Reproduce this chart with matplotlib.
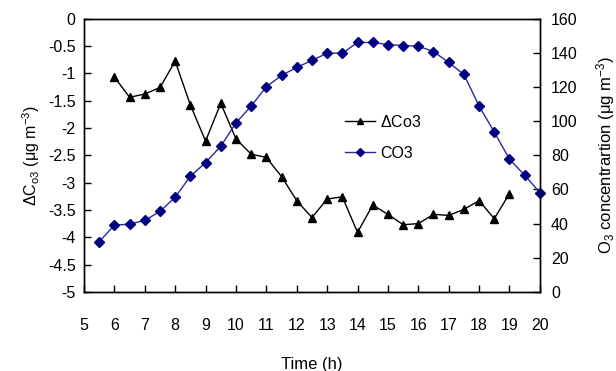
import matplotlib
matplotlib.use('Agg')
import matplotlib.pyplot as plt
import numpy as np

plt.rcParams['font.family'] = ['Liberation Sans', 'DejaVu Sans']
plt.rcParams['mathtext.fontset'] = 'custom'
plt.rcParams['mathtext.rm'] = 'Liberation Sans'
plt.rcParams['mathtext.it'] = 'Liberation Sans'

# time axis (hours)
t_delta = np.arange(6.0, 19.01, 0.5)
t_co3 = np.arange(5.5, 20.01, 0.5)

# change of ozone concentration (left axis)
delta_co3 = [-1.07, -1.44, -1.38, -1.26, -0.78, -1.58, -2.24, -1.55, -2.20,
             -2.48, -2.54, -2.89, -3.33, -3.64, -3.30, -3.26, -3.91, -3.41,
             -3.58, -3.77, -3.75, -3.58, -3.60, -3.49, -3.33, -3.66, -3.20]

# ozone concentration (right axis)
co3 = [29.4, 39.1, 39.7, 41.9, 47.1, 55.5, 67.7, 75.7, 85.3, 98.9, 108.8,
       120.1, 126.7, 131.4, 135.5, 139.7, 139.7, 146.0, 146.0, 144.8, 144.2,
       143.8, 140.7, 134.3, 127.3, 108.8, 93.6, 77.7, 68.3, 58.2]

fig = plt.figure(figsize=(6.16, 3.71), dpi=100)
ax = fig.add_axes([0.1364, 0.213, 0.740, 0.737])
ax2 = ax.twinx()

l1, = ax.plot(t_delta, delta_co3, '-^', color='black', lw=1, ms=6,
              label=r'$\Delta$Co3')
l2, = ax2.plot(t_co3, co3, '-D', color='#2a2a9a', mfc='#000080',
               mec='#000080', lw=1, ms=5, label='CO3')
l2.set_clip_on(False)

ax.set_xlim(5, 20)
ax.set_ylim(-5, 0)
ax2.set_ylim(0, 160)
ax.set_xticks(np.arange(5, 21, 1))
ax.set_yticks(np.arange(-5, 0.01, 0.5))
ax.set_yticklabels(['-5', '-4.5', '-4', '-3.5', '-3', '-2.5', '-2', '-1.5',
                    '-1', '-0.5', '0'])
ax2.set_yticks(np.arange(0, 161, 20))

for a in (ax, ax2):
    a.tick_params(direction='in', length=5, width=1, labelsize=11.5, pad=6)
    for s in a.spines.values():
        s.set_linewidth(1)
ax.tick_params(axis='x', pad=19)
ax2.tick_params(axis='y', pad=8)

ax.set_xlabel('Time (h)', fontsize=12, labelpad=17)
ax.set_ylabel(r'$\Delta$C$_{\mathrm{o3}}$ ($\mathrm{\mu}$g m$^{-3}$)',
              fontsize=11.5, labelpad=4)
ax2.set_ylabel(r'O$_3$ concentrartion ($\mathrm{\mu}$g m$^{-3}$)',
               fontsize=12, labelpad=12)

leg = ax.legend(handles=[l1, l2], loc='upper left',
                bbox_to_anchor=(0.54, 0.705), frameon=False, fontsize=11.5,
                handlelength=1.9, handletextpad=0.35, labelspacing=1.0,
                markerscale=0.75)

fig.savefig('out.png', dpi=100)
